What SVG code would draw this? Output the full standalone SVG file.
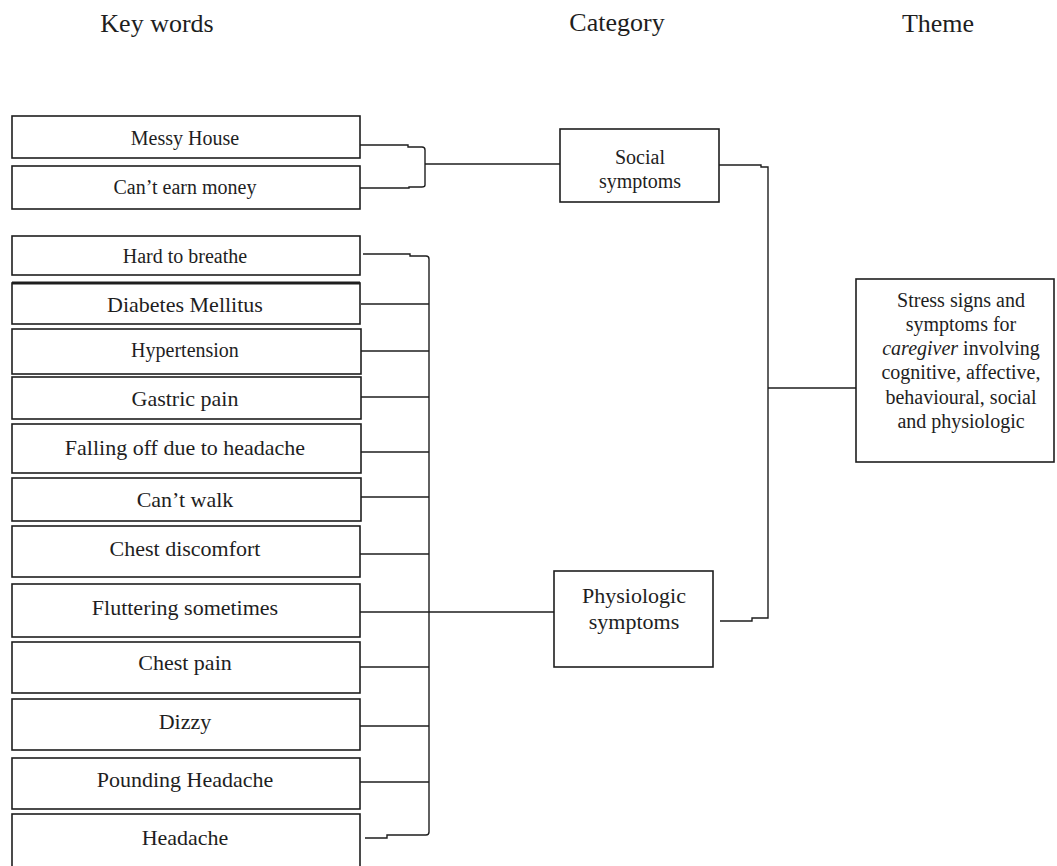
<svg xmlns="http://www.w3.org/2000/svg" width="1057" height="866" viewBox="0 0 1057 866">
<style>
.box{fill:#fff;stroke:#1e1e1e;stroke-width:1.6}
.t{font-family:"Liberation Serif","Times New Roman",serif;fill:#1e1e1e;text-anchor:middle}
.s20{font-size:20px}
.s22{font-size:22px}
.h{font-size:26px}
.c path,.c line{fill:none;stroke:#1e1e1e;stroke-width:1.4}
</style>
<rect width="1057" height="866" fill="#fff"/>
<g id="headers">
<text class="t h" x="157" y="32">Key words</text>
<text class="t h" x="617" y="31">Category</text>
<text class="t h" x="938" y="32">Theme</text>
</g>
<g id="n-messy"><rect class="box" x="12" y="116" width="348" height="42"/><text class="t s20" x="185" y="145">Messy House</text></g>
<g id="n-money"><rect class="box" x="12" y="166" width="348" height="43"/><text class="t s20" x="185" y="194">Can’t earn money</text></g>
<g id="n-breathe"><rect class="box" x="12" y="236" width="348" height="39"/><text class="t s20" x="185" y="263">Hard to breathe</text></g>
<g id="n-diabetes"><rect class="box" x="12" y="283" width="348" height="41"/><line x1="12" y1="283" x2="360" y2="283" stroke="#1e1e1e" stroke-width="3"/><text class="t s22" x="185" y="312">Diabetes Mellitus</text></g>
<g id="n-hyper"><rect class="box" x="12" y="329" width="349" height="45"/><text class="t s20" x="185" y="357">Hypertension</text></g>
<g id="n-gastric"><rect class="box" x="12" y="377" width="349" height="42"/><text class="t s22" x="185" y="406">Gastric pain</text></g>
<g id="n-falling"><rect class="box" x="12" y="424" width="349" height="49"/><text class="t s22" x="185" y="455">Falling off due to headache</text></g>
<g id="n-walk"><rect class="box" x="12" y="478" width="349" height="43"/><text class="t s22" x="185" y="507">Can’t walk</text></g>
<g id="n-chestd"><rect class="box" x="12" y="526" width="348" height="51"/><text class="t s22" x="185" y="556">Chest discomfort</text></g>
<g id="n-flutter"><rect class="box" x="12" y="584" width="348" height="53"/><text class="t s22" x="185" y="615">Fluttering sometimes</text></g>
<g id="n-chestp"><rect class="box" x="12" y="642" width="348" height="51"/><text class="t s22" x="185" y="670">Chest pain</text></g>
<g id="n-dizzy"><rect class="box" x="12" y="699" width="348" height="51"/><text class="t s22" x="185" y="729">Dizzy</text></g>
<g id="n-pounding"><rect class="box" x="12" y="758" width="348" height="51"/><text class="t s22" x="185" y="787">Pounding Headache</text></g>
<g id="n-headache"><rect class="box" x="12" y="814" width="348" height="60"/><text class="t s22" x="185" y="845">Headache</text></g>
<g id="n-social"><rect class="box" x="560" y="129" width="159" height="73"/><text class="t s20" x="640" y="164">Social</text><text class="t s20" x="640" y="188">symptoms</text></g>
<g id="n-physio"><rect class="box" x="554" y="571" width="159" height="96"/><text class="t s22" x="634" y="603">Physiologic</text><text class="t s22" x="634" y="629">symptoms</text></g>
<g id="n-theme"><rect class="box" x="856" y="279" width="198" height="183"/>
<text class="t s20" x="961" y="307">Stress signs and</text>
<text class="t s20" x="961" y="331">symptoms for</text>
<text class="t s20" x="961" y="355"><tspan font-style="italic">caregiver</tspan> involving</text>
<text class="t s20" x="961" y="379">cognitive, affective,</text>
<text class="t s20" x="961" y="404">behavioural, social</text>
<text class="t s20" x="961" y="428">and physiologic</text>
</g>
<g id="connectors" class="c">
<path d="M360 145 H408 V147 H422 Q425 147 425 150 V185 Q425 187 422 187 H409 V188 H360"/>
<line x1="425" y1="164" x2="560" y2="164"/>
<path d="M363 254 H410 V256 H426 Q429 256 429 259 V832 Q429 835 426 835 H387 V838 H365"/>
<line x1="361" y1="304" x2="429" y2="304"/>
<line x1="361" y1="351" x2="429" y2="351"/>
<line x1="361" y1="397" x2="429" y2="397"/>
<line x1="361" y1="452" x2="429" y2="452"/>
<line x1="361" y1="497" x2="429" y2="497"/>
<line x1="360" y1="554" x2="429" y2="554"/>
<line x1="360" y1="612" x2="554" y2="612"/>
<line x1="360" y1="667" x2="429" y2="667"/>
<line x1="360" y1="726" x2="429" y2="726"/>
<line x1="360" y1="782" x2="429" y2="782"/>
<path d="M719 165 H761 V167 H768 V618 H752 V621 H720"/>
<line x1="768" y1="388" x2="856" y2="388"/>
</g>
</svg>
